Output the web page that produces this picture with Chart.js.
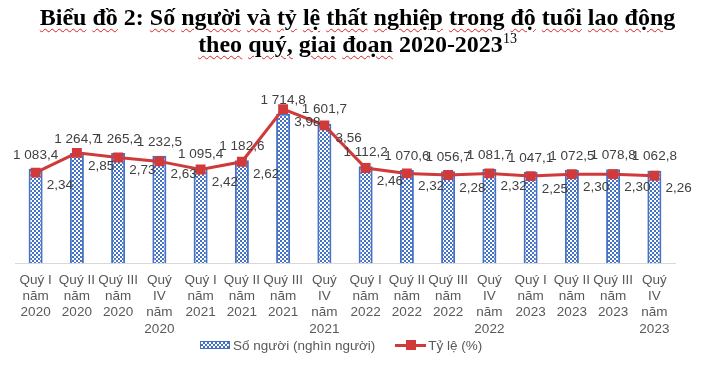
<!DOCTYPE html>
<html lang="vi">
<head>
<meta charset="utf-8">
<script src="https://cdn.jsdelivr.net/npm/chart.js@4.4.1/dist/chart.umd.min.js"></script>
<style>
  html, body { margin: 0; padding: 0; background: #fff; }
  body { width: 707px; height: 366px; position: relative; overflow: hidden; }
  #chart { position: absolute; left: 0; top: 0; }
  #title {
    position: absolute; left: 4px; top: 4px; width: 707px; text-align: center;
    font-family: "Liberation Serif", "Times New Roman", serif; font-weight: bold;
    font-size: 24px; line-height: 27px; color: #000;
  }
  #title .sp { text-decoration: underline wavy #e02020; text-decoration-thickness: 1px; text-underline-offset: 3px; }
  #title sup { font-size: 14px; font-weight: normal; vertical-align: 9px; line-height: 0; }
  #legend {
    position: absolute; left: 200px; top: 336px; height: 18px;
    font-family: "Liberation Sans", Arial, sans-serif; font-size: 13.5px; color: #595959;
    display: flex; align-items: center; white-space: nowrap;
  }
  .sw-bar {
    width: 28px; height: 6px; border: 1px solid #4472C4; margin-right: 3px;
    background: repeating-conic-gradient(#4472C4 0 25%, #fff 0 50%) 0 0 / 4px 4px;
  }
  .sw-line { position: relative; width: 31px; height: 10px; margin-left: 20px; margin-right: 2px; }
  .sw-line:before { content: ""; position: absolute; left: 0; right: 0; top: 4px; height: 3px; background: #D03A3A; }
  .sw-line:after { content: ""; position: absolute; left: 11px; top: 0; width: 10px; height: 10px; background: #D03A3A; }
</style>
</head>
<body>
<canvas id="chart" width="707" height="366"></canvas>
<div id="title">
  <span class="sp">Biểu</span> <span class="sp">đồ</span> 2: <span class="sp">Số</span> <span class="sp">người</span> <span class="sp">và</span> <span class="sp">tỷ</span> <span class="sp">lệ</span> <span class="sp">thất</span> <span class="sp">nghiệp</span> <span class="sp">trong</span> <span class="sp">độ</span> <span class="sp">tuổi</span> <span class="sp">lao</span> <span class="sp">động</span><br>
  <span class="sp">theo</span> <span class="sp">quý,</span> <span class="sp">giai</span> <span class="sp">đoạn</span> 2020-2023<sup>13</sup>
</div>
<div id="legend">
  <div class="sw-bar"></div><span>Số người (nghìn người)</span>
  <div class="sw-line"></div><span>Tỷ lệ (%)</span>
</div>
<script>
// du lieu doc tu bieu do
var quarters = [
  ['Quý I', 'năm', '2020'], ['Quý II', 'năm', '2020'], ['Quý III', 'năm', '2020'], ['Quý', 'IV', 'năm', '2020'],
  ['Quý I', 'năm', '2021'], ['Quý II', 'năm', '2021'], ['Quý III', 'năm', '2021'], ['Quý', 'IV', 'năm', '2021'],
  ['Quý I', 'năm', '2022'], ['Quý II', 'năm', '2022'], ['Quý III', 'năm', '2022'], ['Quý', 'IV', 'năm', '2022'],
  ['Quý I', 'năm', '2023'], ['Quý II', 'năm', '2023'], ['Quý III', 'năm', '2023'], ['Quý', 'IV', 'năm', '2023']
];
var soNguoi = [1083.4, 1264.7, 1265.2, 1232.5, 1095.4, 1182.6, 1714.8, 1601.7,
               1112.2, 1070.6, 1056.7, 1081.7, 1047.1, 1072.5, 1078.8, 1062.8];
var tyLe = [2.34, 2.85, 2.73, 2.63, 2.42, 2.62, 3.98, 3.56,
            2.46, 2.32, 2.28, 2.32, 2.25, 2.30, 2.30, 2.26];

var RED = '#D03A3A';
var BLUE = '#4472C4';
var SANS = '"Liberation Sans", Arial, sans-serif';

// so kieu VN: 1 083,4
function fmt(v, d) {
  var parts = v.toFixed(d).split('.');
  parts[0] = parts[0].replace(/\B(?=(\d{3})+(?!\d))/g, ' ');
  return parts.join(',');
}

// hoa van o ban co cho cot
function checker() {
  var c = document.createElement('canvas');
  c.width = 4; c.height = 4;
  var g = c.getContext('2d');
  g.fillStyle = '#fff';
  g.fillRect(0, 0, 4, 4);
  g.fillStyle = BLUE;
  g.fillRect(0, 0, 2, 2);
  g.fillRect(2, 2, 2, 2);
  return g.createPattern(c, 'repeat');
}

// nhan gia tri: so nguoi tren cot, ty le ben phai diem
var valueLabels = {
  id: 'valueLabels',
  afterDatasetsDraw: function (chart) {
    var ctx = chart.ctx;
    var bars = chart.getDatasetMeta(1).data;
    var pts = chart.getDatasetMeta(0).data;
    ctx.save();
    ctx.font = '13.5px ' + SANS;
    ctx.fillStyle = '#404040';
    ctx.textBaseline = 'middle';
    for (var i = 0; i < soNguoi.length; i++) {
      ctx.textAlign = 'center';
      ctx.fillText(fmt(soNguoi[i], 1), bars[i].x, bars[i].y - 14);
      ctx.textAlign = 'left';
      ctx.fillText(fmt(tyLe[i], 2), pts[i].x + 11, pts[i].y + 13);
    }
    ctx.restore();
  }
};

var ctx = document.getElementById('chart').getContext('2d');
var chart = new Chart(ctx, {
  data: {
    labels: quarters,
    datasets: [
      {
        type: 'line',
        label: 'Tỷ lệ (%)',
        data: tyLe,
        yAxisID: 'y2',
        borderColor: RED,
        backgroundColor: RED,
        borderWidth: 3,
        pointStyle: 'rect',
        pointRadius: 7,
        pointHoverRadius: 7,
        pointBorderWidth: 0,
        tension: 0,
        order: 0
      },
      {
        type: 'bar',
        label: 'Số người (nghìn người)',
        data: soNguoi,
        yAxisID: 'y',
        backgroundColor: checker(),
        borderColor: BLUE,
        borderWidth: 2,
        barPercentage: 0.34,
        categoryPercentage: 1,
        order: 1
      }
    ]
  },
  options: {
    responsive: false,
    animation: false,
    layout: { padding: { left: 15, right: 32, top: 89, bottom: 20 } },
    plugins: { legend: { display: false }, tooltip: { enabled: false } },
    scales: {
      x: {
        grid: { display: false, drawTicks: false },
        border: { color: '#D9D9D9', width: 1 },
        ticks: {
          color: '#595959',
          font: { family: SANS, size: 13.5, lineHeight: 1.2 },
          padding: 9,
          maxRotation: 0,
          autoSkip: false
        }
      },
      y: { display: false, min: 0, max: 2000 },
      y2: { display: false, position: 'right', min: 0, max: 4.5 }
    }
  },
  plugins: [valueLabels]
});
</script>
</body>
</html>
